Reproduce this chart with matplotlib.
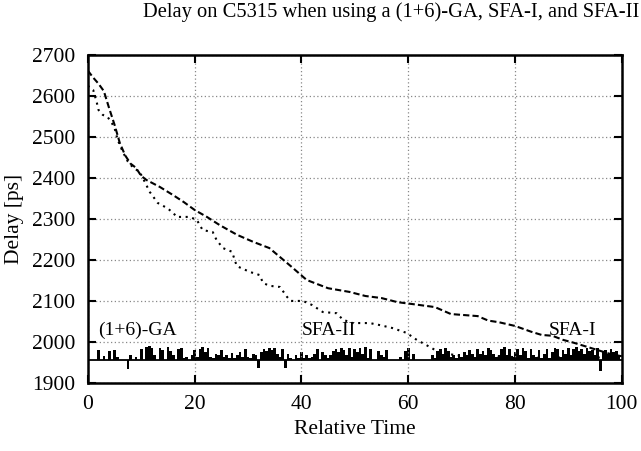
import numpy as np
import matplotlib
matplotlib.use("Agg")
import matplotlib.pyplot as plt

plt.rcParams['font.family'] = ['Liberation Serif', 'DejaVu Serif']

# SFA-I run (dashed)
sfa1_t = [0, 1, 2, 3, 4, 5, 6, 7, 8, 9, 10, 11, 13.5, 16, 18, 20, 22.3, 24.7, 28, 31,
          34, 36, 38, 41, 45, 49, 52, 55, 58, 61, 65, 68, 70, 73, 75, 77, 80, 83, 85,
          87, 89, 91, 93, 96, 98, 100]
sfa1_delay = [2662, 2645, 2630, 2612, 2570, 2530, 2485, 2455, 2435, 2425, 2405, 2395,
              2378, 2358, 2341, 2322, 2305, 2285, 2261, 2244, 2229, 2207, 2185, 2151,
              2131, 2122, 2112, 2107, 2097, 2092, 2085, 2068, 2066, 2063, 2052, 2048,
              2039, 2025, 2017, 2015, 2005, 1998, 1990, 1978, 1970, 1965]

# SFA-II run (dotted)
sfa2_t = [0, 1, 1.7, 2, 2.8, 3.7, 4.5, 5, 5.6, 6.5, 7.5, 8.5, 9.7, 10.3, 11.6, 13.1,
          14.8, 16, 16.6, 19, 20.4, 21.5, 23.4, 24.1, 25.3, 27, 27.9, 30.3, 32.2, 32.8,
          34, 36, 37.3, 38, 40.3, 42, 44, 46.6, 47.8, 49.6, 52.8, 54.7, 57, 59.7, 61.6,
          64, 66, 70, 80, 90, 100]
sfa2_delay = [2625, 2615, 2583, 2566, 2554, 2549, 2534, 2522, 2493, 2465, 2440, 2425,
              2415, 2400, 2366, 2339, 2327, 2315, 2305, 2305, 2298, 2273, 2268, 2249,
              2229, 2220, 2185, 2171, 2163, 2144, 2137, 2134, 2110, 2100, 2100, 2090,
              2073, 2070, 2054, 2046, 2046, 2041, 2034, 2022, 2005, 1988, 1973, 1966,
              1963, 1962, 1962]

# (1+6)-GA run, sampled every 0.5 time units around its resting delay
ga_step = 0.5
ga_base = 1955
ga_delay = [
    1955, 1955, 1955, 1955, 1980, 1955, 1966, 1955, 1978, 1955,
    1981, 1964, 1955, 1955, 1955, 1935, 1967, 1955, 1963, 1955,
    1983, 1955, 1988, 1991, 1986, 1967, 1955, 1986, 1980, 1955,
    1988, 1978, 1967, 1955, 1983, 1986, 1960, 1963, 1955, 1967,
    1980, 1963, 1983, 1988, 1976, 1986, 1963, 1960, 1970, 1967,
    1980, 1963, 1967, 1960, 1974, 1960, 1967, 1976, 1963, 1983,
    1963, 1960, 1970, 1967, 1937, 1976, 1983, 1978, 1986, 1980,
    1986, 1970, 1963, 1983, 1937, 1970, 1960, 1955, 1967, 1960,
    1976, 1960, 1967, 1960, 1963, 1970, 1983, 1955, 1976, 1967,
    1960, 1967, 1978, 1983, 1976, 1986, 1980, 1967, 1986, 1963,
    1983, 1976, 1986, 1970, 1988, 1960, 1983, 1955, 1955, 1978,
    1967, 1963, 1980, 1955, 1955, 1955, 1955, 1963, 1955, 1978,
    1986, 1955, 1970, 1955, 1955, 1955, 1955, 1955, 1955, 1967,
    1960, 1978, 1983, 1970, 1986, 1978, 1963, 1967, 1960, 1970,
    1963, 1976, 1967, 1980, 1970, 1963, 1983, 1970, 1978, 1967,
    1986, 1980, 1970, 1963, 1967, 1983, 1988, 1967, 1983, 1963,
    1976, 1983, 1967, 1986, 1978, 1960, 1983, 1967, 1963, 1980,
    1960, 1970, 1983, 1960, 1976, 1986, 1983, 1963, 1980, 1970,
    1986, 1967, 1983, 1988, 1978, 1983, 1970, 1986, 1978, 1980,
    1967, 1986, 1928, 1978, 1980, 1970, 1983, 1976, 1978, 1967,
    1955,
]
ga_t = np.arange(len(ga_delay)) * ga_step

x_ticks = [0, 20, 40, 60, 80, 100]
y_ticks = [1900, 2000, 2100, 2200, 2300, 2400, 2500, 2600, 2700]

fig = plt.figure(figsize=(6.41, 4.51), dpi=100)
ax = fig.add_axes([0.137, 0.151, 0.833, 0.727])

# GA trace: filled spikes off the resting level plus the resting line itself
ax.fill_between(ga_t, ga_base, ga_delay, step='mid', color='black', lw=0)
ax.plot([ga_t[0], ga_t[-1]], [ga_base, ga_base], color='black', lw=1.3)
ax.plot(sfa1_t, sfa1_delay, color='black', lw=1.5, linestyle=(0, (3, 1.5)))
ax.plot(sfa2_t, sfa2_delay, color='black', lw=1.5, linestyle=(0, (1, 2.2)))

ax.text(1.9, 2029, '(1+6)-GA', fontsize=14, va='center', ha='left')
ax.text(40, 2029, 'SFA-II', fontsize=14, va='center', ha='left')
ax.text(86.3, 2029, 'SFA-I', fontsize=14, va='center', ha='left')

ax.set_xlim(0, 100)
ax.set_ylim(1900, 2700)
ax.set_xticks(x_ticks)
ax.set_yticks(y_ticks)
ax.grid(True, color='#888888', linestyle=(0, (1, 2)), lw=0.9)
ax.tick_params(direction='in', length=6, width=1.5, top=True, right=True,
               labelsize=15.5, pad=9)
for s in ax.spines.values():
    s.set_linewidth(1.8)

ax.set_xlabel('Relative Time', fontsize=15.5, labelpad=4)
ax.set_ylabel('Delay [ps]', fontsize=15.5)
ax.yaxis.set_label_coords(-0.119, 0.5)

fig.text(0.611, 0.972, 'Delay on C5315 when using a (1+6)-GA, SFA-I, and SFA-II',
         fontsize=14.8, ha='center', va='center')

fig.savefig('out.png', dpi=100)
